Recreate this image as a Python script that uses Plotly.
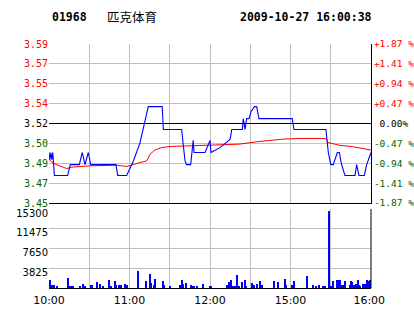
import plotly.graph_objects as go

# ---- header ----
stock_code = "01968"
stock_name = "匹克体育"
stamp = "2009-10-27 16:00:38"

prev_close = 3.52

# ---- axes labels ----
grid_minutes = [0, 30, 60, 90, 120, 150, 180, 210, 240]
time_labels = ["10:00", "", "11:00", "", "12:00", "", "15:00", "", "16:00 "]

price_ticks = [3.5858, 3.5694, 3.5529, 3.5365, 3.52, 3.5035, 3.4871, 3.4706, 3.4542]
price_labels = ["3.59", "3.57", "3.55", "3.54", "3.52", "3.50", "3.49", "3.47", "3.45"]
pct_labels = ["+1.87 %", "+1.41 %", "+0.94 %", "+0.47 %", " 0.00%", "-0.47 %", "-0.94 %", "-1.41 %", "-1.87 %"]
label_colors = ["#FF0000"] * 4 + ["#000000"] + ["#006400"] * 4

vol_ticks = [3825, 7650, 11475, 15300]
vol_labels = ["3825", "7650", "11475", "15300"]

# ---- price line (minute index from 10:00, price) ----
price_t = [0, 0.7, 1.4, 2.1, 2.8, 4, 13.9, 15.9, 22.6, 24.8, 26.8, 29.3, 31.1, 49.9, 51.2,
           57.9, 62.9, 67.8, 74, 84.4, 85.2, 98.9, 99.9, 101.4, 102.6, 105.6, 107.5, 108.1,
           116.3, 120, 120.7, 127.4, 132.9, 135, 136.2, 144.1, 144.8, 146.1, 147.3, 149.1,
           150.6, 153.1, 154.8, 156.5, 181.3, 182.6, 206.4, 208.2, 210, 211.9, 214.9, 216.4,
           218.1, 220.6, 228.1, 229.3, 231, 235, 236.8, 240]
price_p = [3.496, 3.490, 3.496, 3.490, 3.496, 3.477, 3.477, 3.486, 3.486, 3.496, 3.486, 3.496, 3.486, 3.486, 3.477,
           3.477, 3.489, 3.504, 3.534, 3.534, 3.515, 3.515, 3.504, 3.489, 3.486, 3.486, 3.506, 3.496,
           3.496, 3.506, 3.496, 3.500, 3.505, 3.507, 3.515, 3.515, 3.524, 3.515, 3.524, 3.524,
           3.530, 3.534, 3.534, 3.524, 3.524, 3.515, 3.515, 3.496, 3.486, 3.486, 3.496, 3.496,
           3.486, 3.477, 3.477, 3.486, 3.477, 3.477, 3.486, 3.496]

# ---- average price line ----
avg_t = [0, 3, 13.2, 16.4, 29.3, 50.3, 57.9, 62.9, 67.8, 72.8, 75.3, 79, 84, 90.2,
         141.6, 156.5, 173.9, 186.3, 206.2, 208, 212.5, 216.4, 226.3, 240]
avg_p = [3.4904, 3.4871, 3.4827, 3.4838, 3.4849, 3.4855, 3.4844, 3.4863, 3.4877, 3.4890, 3.4946, 3.4981, 3.5001, 3.5010,
         3.5029, 3.5051, 3.5070, 3.5076, 3.5076, 3.5043, 3.5029, 3.5020, 3.5008, 3.4980]

# ---- volume ----
vol_t = [0, 1, 2, 3, 4, 6, 14, 16, 17, 18, 23, 25, 27, 31, 32, 36, 38, 40, 45, 46, 49, 50, 52, 54, 57, 58,
         66, 72, 75, 76, 78, 79, 85, 86, 90, 98, 99, 100, 102, 106, 107, 108, 110, 115, 120, 121,
         133, 134, 136, 137, 139, 140, 142, 144, 146, 147, 151, 153, 155, 157, 159, 168, 171, 176, 177,
         181, 183, 192, 197, 199, 201, 204, 205, 206, 209, 210, 212, 215, 216, 217, 218, 219, 221, 224,
         225, 226, 227, 229, 230, 231, 232, 234, 235, 236, 237, 238, 239]
vol_v = [1000, 1600, 650, 650, 650, 400, 1940, 450, 450, 450, 450, 840, 450, 650, 650, 1160, 840, 450, 1610, 450, 1290, 650, 650, 650, 840, 650,
         3360, 1290, 2780, 970, 650, 1740, 1290, 650, 450, 650, 1480, 840, 970, 650, 450, 450, 450, 840, 450, 450,
         650, 1100, 1480, 450, 450, 2580, 450, 1100, 1610, 450, 970, 650, 840, 1420, 650, 1290, 1100, 1810, 650,
         650, 1290, 2260, 650, 450, 650, 450, 450, 450, 14950, 450, 1290, 1480, 1480, 1480, 650, 650, 1290, 650,
         1290, 1160, 650, 840, 1610, 650, 450, 840, 840, 840, 1610, 1290, 1480]

GRID = "#C0C0C0"
MONO = "DejaVu Sans Mono"
SANS = "DejaVu Sans"


def colored(labels):
    return [f'<span style="color:{c}">{t}</span>' for t, c in zip(labels, label_colors)]


fig = go.Figure()
fig.add_trace(go.Scatter(x=avg_t, y=avg_p, mode="lines", line=dict(color="#FF0000", width=1),
                         xaxis="x", yaxis="y", hoverinfo="skip"))
fig.add_trace(go.Scatter(x=price_t, y=price_p, mode="lines", line=dict(color="#0000FF", width=1.1),
                         xaxis="x", yaxis="y3", hoverinfo="skip"))
fig.add_trace(go.Bar(x=vol_t, y=vol_v, width=0.8, marker=dict(color="#0000FF", line=dict(width=0)),
                     xaxis="x2", yaxis="y2", hoverinfo="skip"))

price_dom = [85 / 244, 1]
vol_dom = [0, 79 / 244]

fig.update_layout(
    width=414, height=314,
    margin=dict(l=49, r=43, t=44, b=26, pad=0, autoexpand=False),
    paper_bgcolor="white", plot_bgcolor="white",
    showlegend=False, hovermode=False, bargap=0,
    xaxis=dict(domain=[0, 1], anchor="y", range=[0, 240], tickmode="array", tickvals=grid_minutes,
               showticklabels=False, showgrid=True, gridcolor=GRID, gridwidth=1, zeroline=False,
               showline=True, linecolor="#000000", linewidth=1, ticks="", automargin=False),
    yaxis=dict(domain=price_dom, anchor="x", range=[price_ticks[-1], price_ticks[0]], tickmode="array",
               tickvals=price_ticks, ticktext=colored(price_labels), showgrid=True, gridcolor=GRID,
               zeroline=False, ticks="", automargin=False, tickfont=dict(family=MONO, size=10)),
    yaxis3=dict(overlaying="y", side="right", anchor="x", range=[price_ticks[-1], price_ticks[0]],
                tickmode="array", tickvals=price_ticks, ticktext=colored(pct_labels), showgrid=False,
                zeroline=False, showline=True, linecolor="#000000", linewidth=1, ticks="",
                automargin=False, tickfont=dict(family=MONO, size=9.5)),
    xaxis2=dict(domain=[0, 1], anchor="y2", range=[0, 240], tickmode="array", tickvals=grid_minutes,
                ticktext=time_labels, showgrid=True, gridcolor=GRID, zeroline=False,
                showline=True, linecolor="#000000", linewidth=1, ticks="outside", ticklen=2,
                tickcolor="rgba(0,0,0,0)", automargin=False,
                tickfont=dict(family=SANS, size=11, color="#000000")),
    yaxis2=dict(domain=vol_dom, anchor="x2", range=[0, vol_ticks[-1]], tickmode="array",
                tickvals=vol_ticks, ticktext=vol_labels, showgrid=True, gridcolor=GRID, zeroline=False,
                ticks="", ticklabelshift=4, automargin=False,
                tickfont=dict(family=SANS, size=10, color="#000000")),
)

# previous close reference line
fig.add_shape(type="line", xref="x domain", x0=0, x1=1, yref="y", y0=prev_close, y1=prev_close,
              line=dict(color="#000000", width=1))
# right border of the volume panel
fig.add_shape(type="line", xref="x2 domain", x0=1, x1=1, yref="y2 domain", y0=0, y1=1,
              line=dict(color="#000000", width=1))

hdr_y = 1 + (44 - 16.5) / 244
fig.add_annotation(text=f"<b>{stock_code}</b>", xref="paper", yref="paper", x=(50 - 49) / 322, y=hdr_y,
                   xanchor="left", yanchor="middle", showarrow=False,
                   font=dict(family=MONO, size=11.5, color="#000000"))
fig.add_annotation(text=stock_name, xref="paper", yref="paper", x=(105 - 49) / 322, y=hdr_y,
                   xanchor="left", yanchor="middle", showarrow=False,
                   font=dict(family="Noto Sans CJK SC", size=12.5, color="#000000"))
fig.add_annotation(text=f"<b>{stamp}</b>", xref="paper", yref="paper", x=(238 - 49) / 322, y=hdr_y,
                   xanchor="left", yanchor="middle", showarrow=False,
                   font=dict(family=MONO, size=11.5, color="#000000"))

fig.write_html("out.html", config={"displayModeBar": False})
